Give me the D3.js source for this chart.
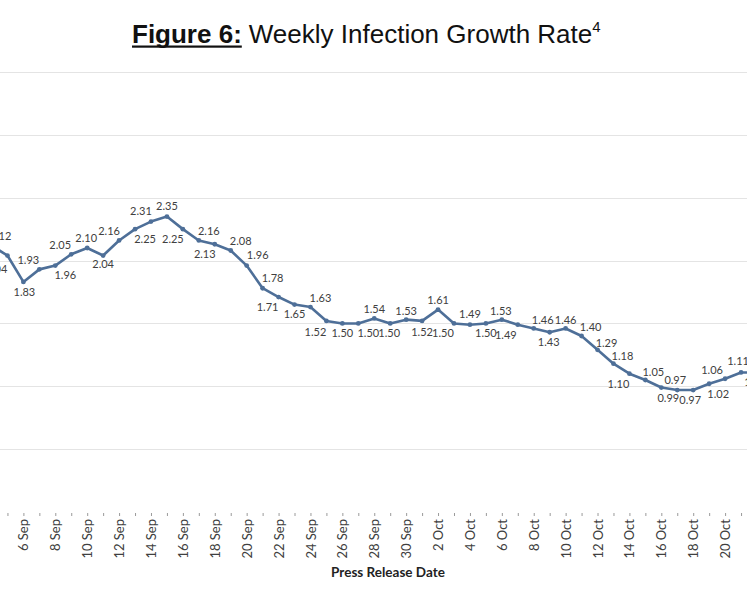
<!DOCTYPE html>
<html>
<head>
<meta charset="utf-8">
<script src="https://cdn.jsdelivr.net/npm/d3@7"></script>
<style>
  body { margin: 0; background: #fff; }
  svg { display: block; }
</style>
</head>
<body>
<svg id="chart" width="747" height="598"></svg>
<script>
// press release dates (one point per day)
const dates = [
  "4 Sep", "5 Sep", "6 Sep", "7 Sep", "8 Sep", "9 Sep", "10 Sep", "11 Sep",
  "12 Sep", "13 Sep", "14 Sep", "15 Sep", "16 Sep", "17 Sep", "18 Sep", "19 Sep",
  "20 Sep", "21 Sep", "22 Sep", "23 Sep", "24 Sep", "25 Sep", "26 Sep", "27 Sep",
  "28 Sep", "29 Sep", "30 Sep", "1 Oct", "2 Oct", "3 Oct", "4 Oct", "5 Oct",
  "6 Oct", "7 Oct", "8 Oct", "9 Oct", "10 Oct", "11 Oct", "12 Oct", "13 Oct",
  "14 Oct", "15 Oct", "16 Oct", "17 Oct", "18 Oct", "19 Oct", "20 Oct", "21 Oct",
  "22 Oct"
];

// weekly infection growth rate
const rates = [
  2.12, 2.04, 1.83, 1.93, 1.96, 2.05, 2.10, 2.04,
  2.16, 2.25, 2.31, 2.35, 2.25, 2.16, 2.13, 2.08,
  1.96, 1.78, 1.71, 1.65, 1.63, 1.52, 1.50, 1.50,
  1.54, 1.50, 1.53, 1.52, 1.61, 1.50, 1.49, 1.50,
  1.53, 1.49, 1.46, 1.43, 1.46, 1.40, 1.29, 1.18,
  1.10, 1.05, 0.99, 0.97, 0.97, 1.02, 1.06, 1.11,
  1.11
];

// dates that get a tick label
const labelledDates = dates.filter((d, i) => i % 2 === 0);

// gridline values
const gridValues = [0.5, 1.0, 1.5, 2.0, 2.5, 3.0, 3.5];

// where each data label sits relative to its point [dx, dy]
const labelOffsets = [
  [9, -9], [-11, 14], [1, 10], [-11, -9], [10, 10], [-11, -9], [-1, -10], [0, 9],
  [-10, -9], [10, 10], [-10, -10], [0, -10], [-10, 10], [10, -9], [-10, 10], [10, -9],
  [11, -10], [10, -10], [-11, 10], [0, 10], [10, -9], [-11, 11], [0, 10], [10, 10],
  [0, -9], [-1, 10], [0, -9], [0, 11], [0, -9], [-11, 10], [0, -11], [0, 10],
  [-1, -9], [-12, 10], [9, -8], [-1, 10], [0, -8], [9, -9], [9, -7], [9, -8],
  [-11, 10], [8, -8], [7, 11], [-2, -10], [-3, 10], [9, 10], [-13, -9], [-3, -11],
  [-2, 10]
];

const svg = d3.select("#chart");
const lineColor = "#4e6f98";

const x = d3.scalePoint()
  .domain(dates)
  .range([-8.5, 757]);

const y = d3.scaleLinear()
  .domain([0, 3.5])
  .range([512, 72]);

// title
const title = svg.append("g").attr("font-family", "Liberation Sans, Arial, sans-serif").attr("fill", "#111");
const fig = title.append("text")
  .attr("x", 132).attr("y", 43)
  .attr("font-size", 26).attr("font-weight", "bold")
  .text("Figure 6:");
const figW = fig.node().getComputedTextLength();
title.append("rect")
  .attr("x", 132).attr("y", 45.5)
  .attr("width", figW).attr("height", 2.2)
  .attr("fill", "#111");
const rest = title.append("text")
  .attr("x", 132 + figW + 7).attr("y", 43)
  .attr("font-size", 26)
  .text("Weekly Infection Growth Rate");
rest.append("tspan")
  .attr("font-size", 15)
  .attr("dy", -11)
  .text("4");

// gridlines
svg.append("g")
  .selectAll("line")
  .data(gridValues)
  .join("line")
  .attr("x1", 0).attr("x2", 747)
  .attr("y1", d => Math.round(y(d)) + 0.5)
  .attr("y2", d => Math.round(y(d)) + 0.5)
  .attr("stroke", "#e4e4e4")
  .attr("stroke-width", 1);

// x axis
const xAxis = svg.append("g")
  .attr("transform", "translate(0,512)")
  .call(d3.axisBottom(x)
    .tickValues(dates)
    .tickSize(4)
    .tickFormat(d => labelledDates.includes(d) ? d : ""));

xAxis.select(".domain").remove();
xAxis.selectAll(".tick line").attr("stroke", "#9a9a9a").attr("y1", 1);
xAxis.selectAll(".tick text")
  .attr("font-family", "Lato, sans-serif")
  .attr("font-size", 13)
  .attr("fill", "#404040")
  .attr("text-anchor", "end")
  .attr("dy", "0.35em")
  .attr("transform", "rotate(-90)")
  .attr("x", -7)
  .attr("y", 0);

svg.append("text")
  .attr("x", 388).attr("y", 577)
  .attr("text-anchor", "middle")
  .attr("font-family", "Lato, sans-serif")
  .attr("font-weight", "bold")
  .attr("font-size", 13.5)
  .attr("fill", "#222")
  .text("Press Release Date");

// line
const points = dates.map((d, i) => ({ date: d, rate: rates[i], off: labelOffsets[i] }));

const line = d3.line()
  .x(d => x(d.date))
  .y(d => y(d.rate));

svg.append("path")
  .datum(points)
  .attr("d", line)
  .attr("fill", "none")
  .attr("stroke", lineColor)
  .attr("stroke-width", 2.6)
  .attr("stroke-linejoin", "round");

svg.append("g")
  .selectAll("circle")
  .data(points)
  .join("circle")
  .attr("cx", d => x(d.date))
  .attr("cy", d => y(d.rate))
  .attr("r", 2.4)
  .attr("fill", lineColor);

// data labels
svg.append("g")
  .selectAll("text")
  .data(points)
  .join("text")
  .attr("x", d => x(d.date) + d.off[0])
  .attr("y", d => y(d.rate) + d.off[1])
  .attr("dy", "0.35em")
  .attr("text-anchor", "middle")
  .attr("font-family", "Lato, sans-serif")
  .attr("font-size", 11)
  .attr("fill", "#404040")
  .text(d => d.rate.toFixed(2));
</script>
</body>
</html>
